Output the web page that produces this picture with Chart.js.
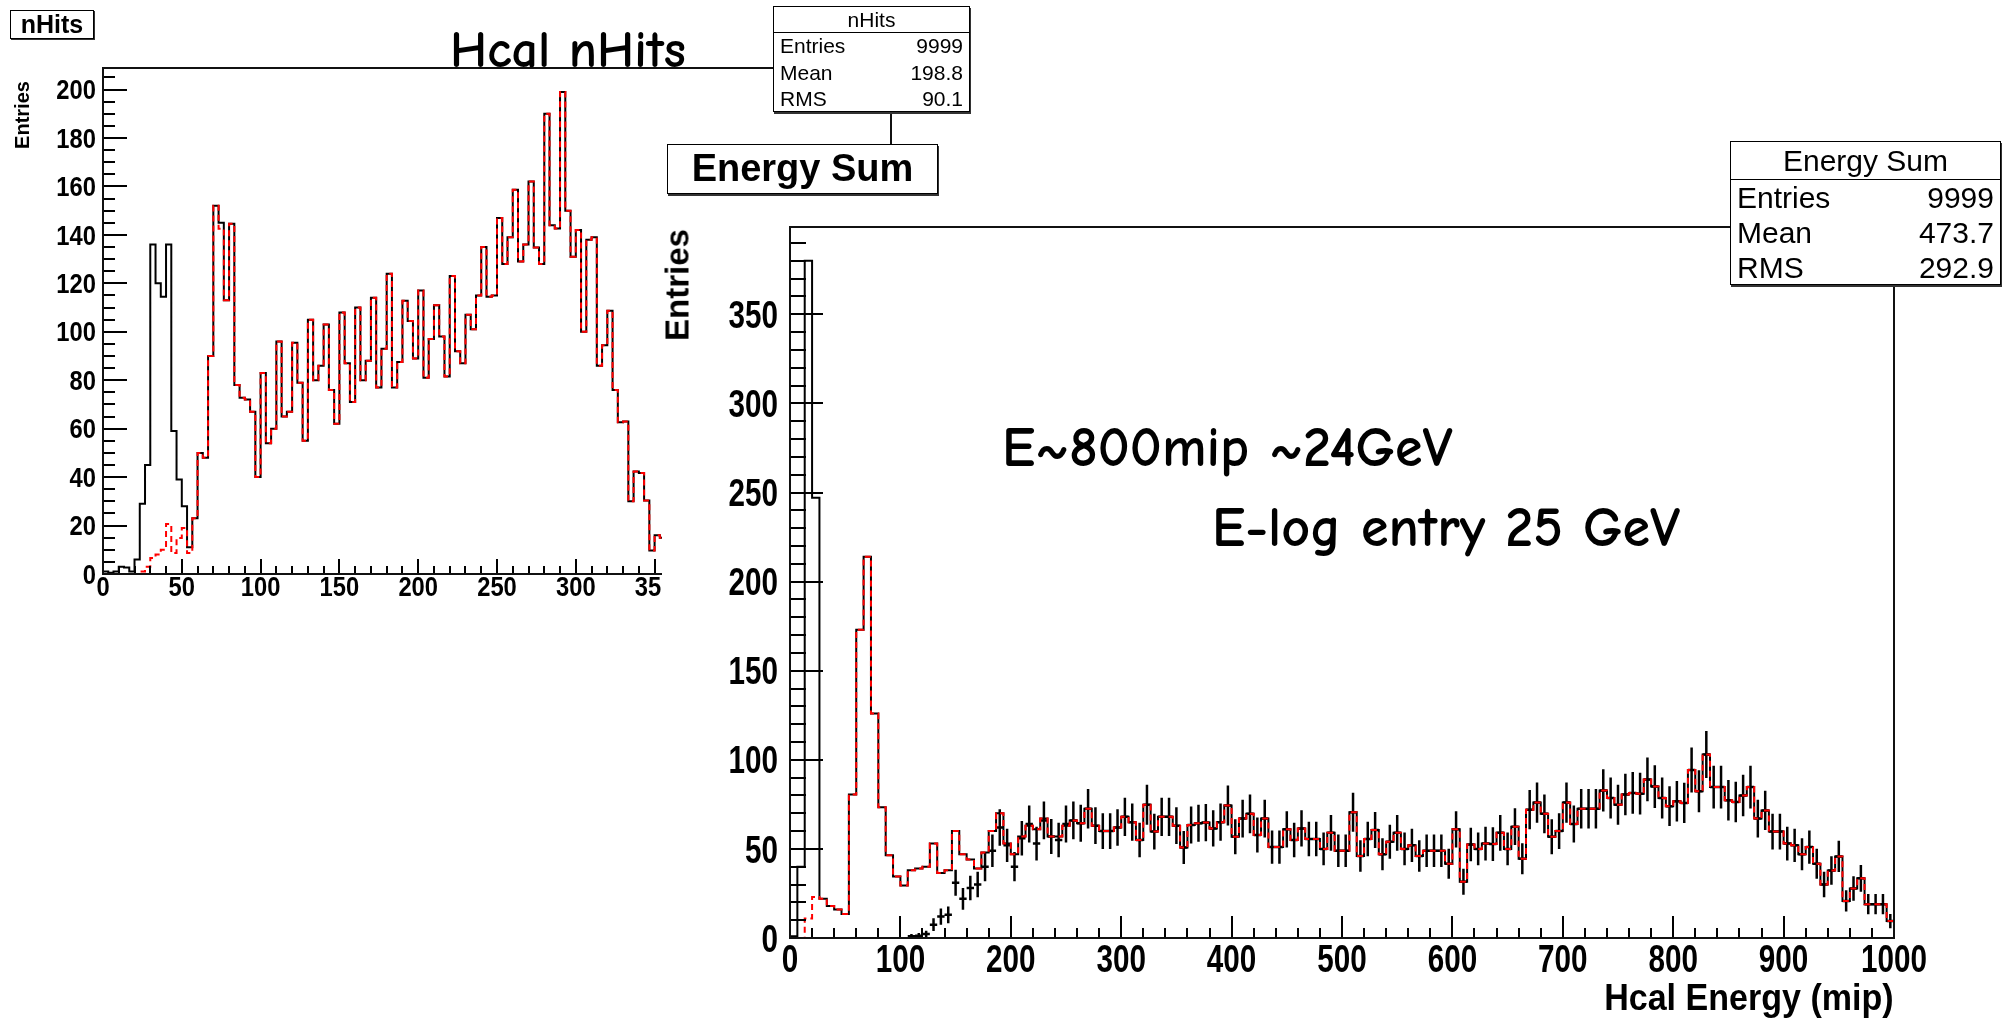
<!DOCTYPE html>
<html><head><meta charset="utf-8">
<script src="https://cdn.jsdelivr.net/npm/chart.js@4/dist/chart.umd.min.js"></script>
<style>
html,body{margin:0;padding:0;background:#fff;}
#wrap{position:relative;width:2014px;height:1021px;overflow:hidden;background:#fff;}
canvas{position:absolute;}
#cL{left:0;top:0;}
#cR{left:662px;top:144px;background:#fff;}
.t{position:absolute;white-space:nowrap;color:#000;font-family:'Liberation Sans',Arial,sans-serif;}
.box{position:absolute;background:#fff;border:1.5px solid #000;box-sizing:border-box;box-shadow:1px 2px 0 #333;font-family:'Liberation Sans',Arial,sans-serif;color:#000;}
.hdr{text-align:center;border-bottom:1.5px solid #000;box-sizing:border-box;}
.row{display:flex;justify-content:space-between;padding:0 6px;box-sizing:border-box;}
.comic{position:absolute;white-space:nowrap;font-family:'Comic Sans MS','Comic Neue','DejaVu Sans',sans-serif;font-weight:bold;line-height:1;color:#000;}
.rot{position:absolute;white-space:nowrap;font-family:'Liberation Sans',Arial,sans-serif;font-weight:bold;color:#000;transform:translate(-50%,-50%) rotate(-90deg);line-height:1;}
</style></head><body><div id="wrap">
<canvas id="cL" width="1000" height="640"></canvas>
<canvas id="cR" width="1352" height="877"></canvas>

<div class="box" style="left:10px;top:10px;width:84px;height:29px;font-weight:bold;font-size:25px;line-height:26px;text-align:center;box-shadow:1px 1px 0 #333;">nHits</div>
<div class="comic" style="left:450px;top:24px;font-size:52px;">Hcal nHits</div>
<div class="rot" style="left:22px;top:115px;font-size:20px;">Entries</div>

<div class="box" style="left:773px;top:6px;width:197px;height:106px;font-size:21px;">
  <div class="hdr" style="height:26px;line-height:25px;">nHits</div>
  <div class="row" style="height:26.5px;line-height:26.5px;"><span>Entries</span><span>9999</span></div>
  <div class="row" style="height:26.5px;line-height:26.5px;"><span>Mean</span><span>198.8</span></div>
  <div class="row" style="height:26.5px;line-height:26.5px;"><span>RMS</span><span>90.1</span></div>
</div>

<div class="box" style="left:667px;top:144px;width:271px;height:50px;font-weight:bold;font-size:38px;line-height:47px;text-align:center;">Energy Sum</div>

<div class="box" style="left:1730px;top:141px;width:271px;height:144px;font-size:30px;">
  <div class="hdr" style="height:38px;line-height:37px;">Energy Sum</div>
  <div class="row" style="height:35px;line-height:35px;"><span>Entries</span><span>9999</span></div>
  <div class="row" style="height:35px;line-height:35px;"><span>Mean</span><span>473.7</span></div>
  <div class="row" style="height:35px;line-height:35px;"><span>RMS</span><span>292.9</span></div>
</div>

<div class="rot" style="left:677px;top:285px;font-size:33px;">Entries</div>
<div class="t" style="right:120px;top:979px;font-size:37px;font-weight:bold;line-height:1;transform:scaleX(0.92);transform-origin:right center;">Hcal Energy (mip)</div>

<div class="comic" style="left:1002px;top:420px;font-size:56px;">E~800mip ~24GeV</div>
<div class="comic" style="left:1212px;top:500px;font-size:56px;">E-log entry 25 GeV</div>
</div>

<script>
// ---------------- data ----------------
// Left plot: nHits, bins of width 10/3 starting at 0 (visible bins 0..106)
const leftBinWidth = 10 / 3;
const leftBlack = [
  1, 0.5, 1, 3, 2.7, 1, 6, 29, 45, 136,
  120, 114.5, 136, 59, 39, 28, 11, 23, 50, 48,
  90, 152, 145, 113, 144.6, 78, 72.8, 72, 67, 40,
  83, 54, 60, 96, 65, 67, 95.5, 79, 55, 105,
  80, 86, 103, 76, 62, 108, 87, 71, 110, 80,
  88, 114, 77, 93, 124, 77, 87.5, 112.8, 104.5, 89,
  117, 81, 97, 111, 98, 81.5, 123, 92, 87, 107,
  101, 115, 135, 114.5, 115, 147, 128, 139, 158.6, 129,
  136, 162, 134.8, 128, 190, 144, 142.6, 199, 150, 131,
  142, 100, 138, 139, 86, 94.4, 108.7, 76, 62.7, 63,
  30, 42.3, 41.7, 30.3, 9.7, 16, 15
];
// red dashed: differs from black only in the first bins
const leftRedLow = [0, 0, 0, 0, 0, 0, 0, 1, 3, 6.6, 8, 10, 20.6, 8.7, 14.9, 19, 8.7];
const leftRedTweaks = {22: 142.5};

const leftXTicks = [0, 50, 100, 150, 200, 250, 300, 350, 400, 450, 500];
const leftYTicks = [0, 20, 40, 60, 80, 100, 120, 140, 160, 180, 200];

// Right plot: Energy Sum, 150 bins over 0..1000
const rightBinWidth = 1000 / 150;
const rightBlack = [
  1, 40, 380, 247, 22, 18, 16, 13.5, 80.5, 173,
  214, 126, 73.4, 46.5, 34.5, 29.5, 38, 39, 40, 53,
  36.5, 38, 60, 47, 44, 39, 48, 60, 70, 53,
  47, 57, 63, 61, 67, 57, 57, 63, 66, 64.4,
  72.5, 63, 60, 60, 62, 68, 65, 55, 74.8, 59.7,
  68, 68, 63, 50.8, 63.4, 64.4, 64.8, 61.5, 65, 74.4,
  56.8, 67, 69.7, 57.8, 67, 51, 51, 61, 55, 61.5,
  55.5, 55.5, 50, 59, 49, 49, 70.6, 46, 55.5, 60.6,
  47, 54, 59, 50, 52, 46, 49, 49, 49, 41.7,
  61, 31.6, 52.5, 50, 53, 52.7, 59, 50, 62.5, 44.5,
  72, 76, 69.7, 56.8, 60, 76, 64, 72.5, 72.5, 72.5,
  82.8, 78.6, 74.8, 80.5, 81.4, 81, 89, 85, 78.6, 74,
  76.7, 75.8, 94.3, 82.4, 103, 84.7, 84.7, 77.3, 76.3, 80,
  84.7, 67, 71.6, 59.7, 59.7, 53, 52, 47, 51, 41.7,
  30, 37.9, 45.8, 20.8, 27.8, 33.5, 19, 19, 19, 9.5
];
const rightRedLow = [0, 0, 11, 23];               // red dashed differs in bins 0..3
const rightCrossStart = 16;                        // first bin with data points
const rightCrossLow = [1, 1.3, 2.2, 7.5, 12, 13, 31, 22, 28, 30, 40, 49, 62, 52, 40, 56, 64, 53, 66, 57, 55, 64]; // bins 16..37
// from bin 38 on, the points sit on the black histogram
const rightErrScale = 1.3;

const rightXTicks = [0, 100, 200, 300, 400, 500, 600, 700, 800, 900, 1000];
const rightYTicks = [0, 50, 100, 150, 200, 250, 300, 350];

// ---------------- helpers ----------------
function stepPoints(w, vals) {
  const pts = vals.map((v, i) => ({x: i * w, y: v}));
  pts.push({x: vals.length * w, y: vals[vals.length - 1]});
  return pts;
}
function crossPoints(w, start, vals, es) {
  const pts = [];
  vals.forEach((v, k) => {
    if (v == null) return;
    const i = start + k, xc = (i + 0.5) * w, e = Math.sqrt(v) * es;
    pts.push({x: xc, y: Math.max(0, v - e)}, {x: xc, y: v + e}, {x: xc, y: null},
             {x: i * w, y: v}, {x: (i + 1) * w, y: v}, {x: (i + 1) * w, y: null});
  });
  return pts;
}

const leftRed = leftRedLow.concat(leftBlack.slice(leftRedLow.length));
Object.keys(leftRedTweaks).forEach(k => { leftRed[+k] = leftRedTweaks[k]; });
const rightRed = rightRedLow.concat(rightBlack.slice(rightRedLow.length));
const rightCross = rightCrossLow.concat(rightBlack.slice(rightCrossStart + rightCrossLow.length));

// ---------------- ROOT-like frame, inward ticks and condensed tick labels ----------------
const rootFrame = {
  id: 'rootFrame',
  afterDatasetsDraw(chart, args, o) {
    const ctx = chart.ctx, a = chart.chartArea, x = chart.scales.x, y = chart.scales.y;
    ctx.save();
    ctx.strokeStyle = '#000';
    ctx.lineWidth = o.tickWidth;
    ctx.beginPath();
    for (let i = 0; i * o.xMinor <= x.max + 1e-6; i++) {
      const v = i * o.xMinor;
      const major = Math.abs(v / o.xMajor - Math.round(v / o.xMajor)) < 1e-6;
      const px = Math.round(x.getPixelForValue(v));
      ctx.moveTo(px, a.bottom);
      ctx.lineTo(px, a.bottom - (major ? o.xMajLen : o.xMinLen));
    }
    for (let i = 0; i * o.yMinor <= y.max + 1e-6; i++) {
      const v = i * o.yMinor;
      const major = Math.abs(v / o.yMajor - Math.round(v / o.yMajor)) < 1e-6;
      const py = Math.round(y.getPixelForValue(v));
      ctx.moveTo(a.left, py);
      ctx.lineTo(a.left + (major ? o.yMajLen : o.yMinLen), py);
    }
    ctx.stroke();
    ctx.lineWidth = o.frameWidth;
    ctx.strokeStyle = '#111';
    ctx.strokeRect(a.left, a.top, a.right - a.left, a.bottom - a.top);

    // tick labels (ROOT's condensed bold Helvetica look), placed with the scales
    ctx.fillStyle = '#000';
    ctx.font = 'bold ' + o.labSize + "px 'Liberation Sans', Arial, sans-serif";
    ctx.textBaseline = 'alphabetic';
    const dy = 0.36 * o.labSize;
    x.ticks.forEach(t => {
      ctx.save();
      ctx.translate(x.getPixelForValue(t.value), a.bottom + o.xLabCenter + dy);
      ctx.scale(o.labSx, 1);
      ctx.textAlign = 'center';
      ctx.fillText(String(t.value), 0, 0);
      ctx.restore();
    });
    y.ticks.forEach(t => {
      ctx.save();
      ctx.translate(a.left - o.yLabGap, y.getPixelForValue(t.value) + dy);
      ctx.scale(o.labSx, 1);
      ctx.textAlign = 'right';
      ctx.fillText(String(t.value), 0, 0);
      ctx.restore();
    });
    ctx.restore();
  }
};

function makeScales(xmax, ymax, xt, yt, xH, yW) {
  return {
    x: {
      type: 'linear', min: 0, max: xmax,
      grid: {display: false, drawTicks: false}, border: {display: false},
      afterBuildTicks: s => { s.ticks = xt.map(v => ({value: v})); },
      afterFit: s => { s.height = xH; },
      ticks: {display: false}
    },
    y: {
      type: 'linear', min: 0, max: ymax,
      grid: {display: false, drawTicks: false}, border: {display: false},
      afterBuildTicks: s => { s.ticks = yt.map(v => ({value: v})); },
      afterFit: s => { s.width = yW; },
      ticks: {display: false}
    }
  };
}

const common = {
  responsive: false, animation: false, events: [], devicePixelRatio: 1,
  elements: {point: {radius: 0}, line: {tension: 0}},
};

// ---------------- left chart ----------------
new Chart(document.getElementById('cL'), {
  type: 'line',
  data: {datasets: [
    {data: stepPoints(leftBinWidth, leftRed), borderColor: '#ff0000', borderWidth: 2, borderDash: [6, 4], stepped: 'before', order: 0, fill: false},
    {data: stepPoints(leftBinWidth, leftBlack), borderColor: '#000', borderWidth: 2, stepped: 'before', order: 1, fill: false}
  ]},
  options: Object.assign({}, common, {
    layout: {padding: {left: 0, top: 68, right: 109, bottom: 0}},
    plugins: {legend: {display: false}, tooltip: {enabled: false},
      rootFrame: {xMinor: 10, xMajor: 50, yMinor: 5, yMajor: 20, xMajLen: 15, xMinLen: 8, yMajLen: 24, yMinLen: 12, tickWidth: 2, frameWidth: 2,
                  labSize: 27, labSx: 0.88, xLabCenter: 12, yLabGap: 7}},
    scales: makeScales(500, 208.9, leftXTicks, leftYTicks, 66, 103)
  }),
  plugins: [rootFrame]
});

// ---------------- right chart ----------------
new Chart(document.getElementById('cR'), {
  type: 'line',
  data: {datasets: [
    {data: stepPoints(rightBinWidth, rightRed), borderColor: '#ff0000', borderWidth: 2, borderDash: [6, 4], stepped: 'before', order: 0, fill: false},
    {data: crossPoints(rightBinWidth, rightCrossStart, rightCross, rightErrScale), borderColor: '#000', borderWidth: 2.5, spanGaps: false, order: 1, fill: false},
    {data: stepPoints(rightBinWidth, rightBlack), borderColor: '#000', borderWidth: 2, stepped: 'before', order: 2, fill: false}
  ]},
  options: Object.assign({}, common, {
    layout: {padding: {left: 0, top: 83, right: 120, bottom: 0}},
    plugins: {legend: {display: false}, tooltip: {enabled: false},
      rootFrame: {xMinor: 20, xMajor: 100, yMinor: 10, yMajor: 50, xMajLen: 22, xMinLen: 10, yMajLen: 33, yMinLen: 16, tickWidth: 2, frameWidth: 2,
                  labSize: 38, labSx: 0.78, xLabCenter: 20, yLabGap: 12}},
    scales: makeScales(1000, 399, rightXTicks, rightYTicks, 83, 128)
  }),
  plugins: [rootFrame]
});
</script>
</body></html>
